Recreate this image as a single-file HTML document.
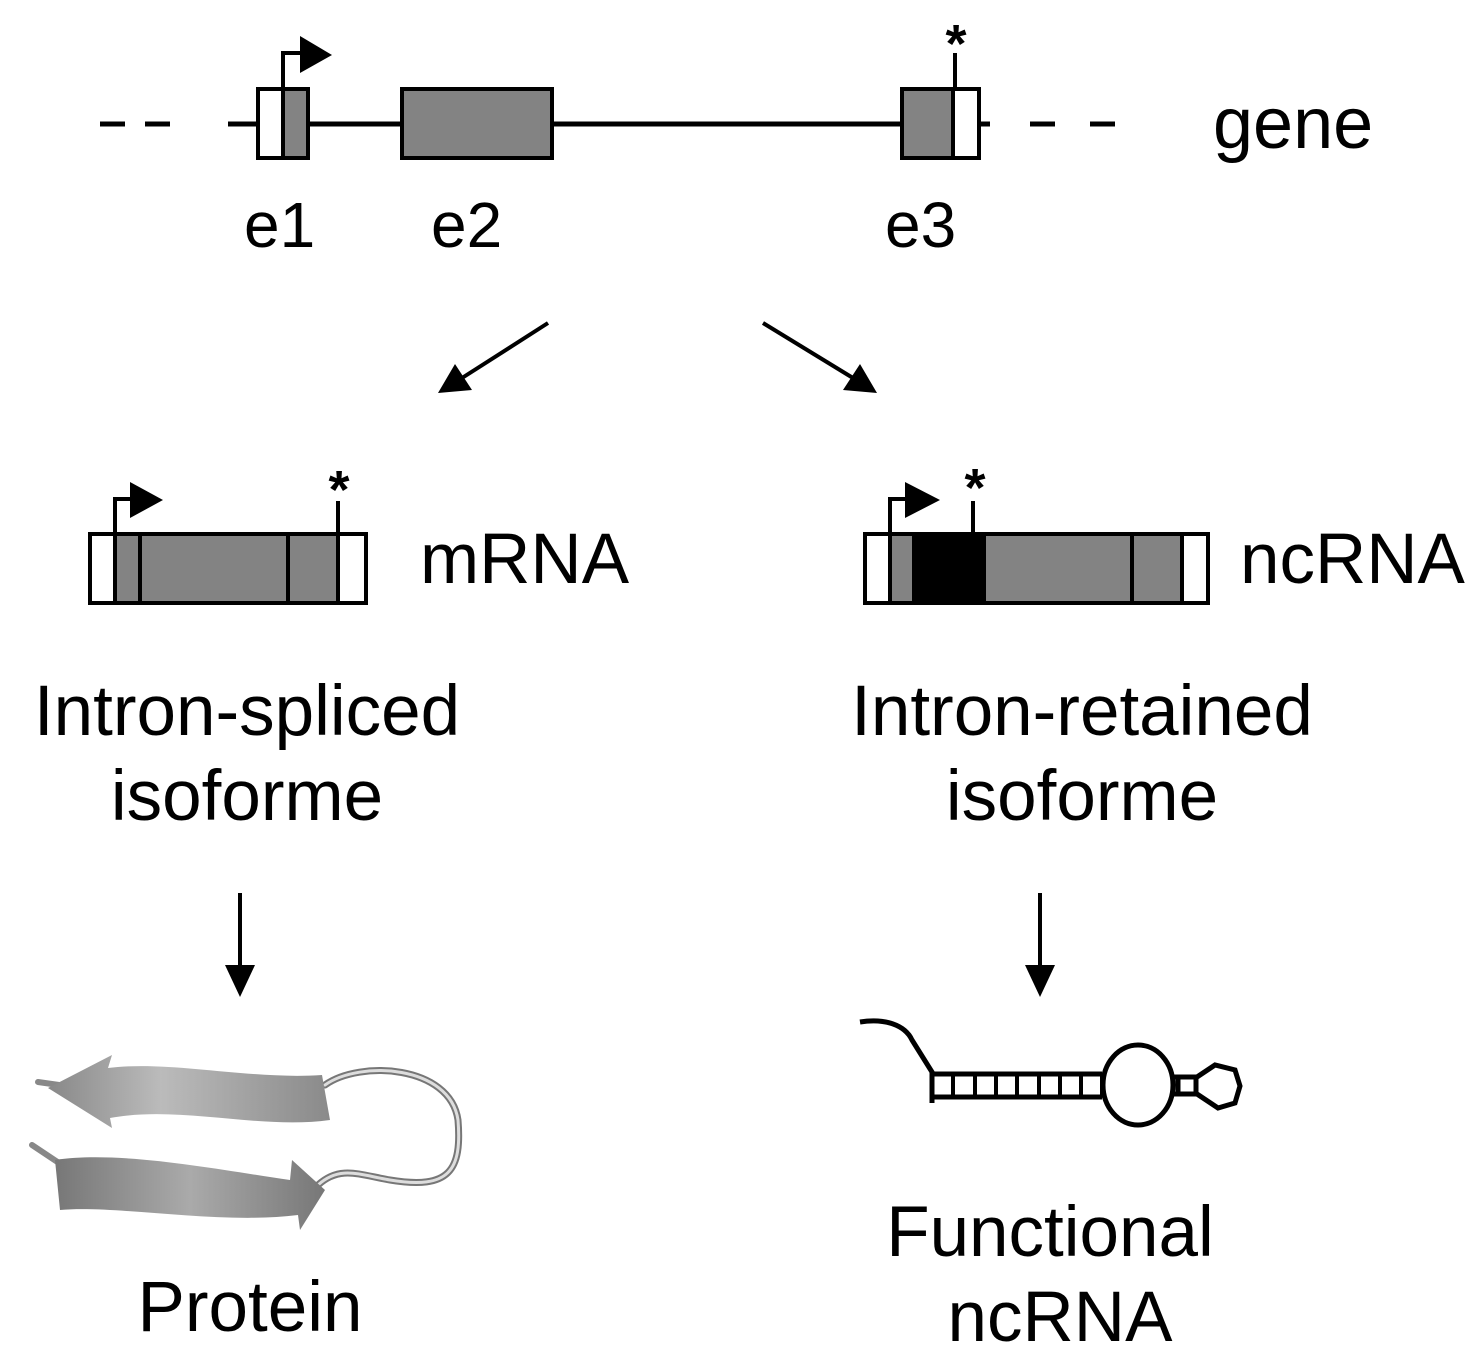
<!DOCTYPE html>
<html><head><meta charset="utf-8"><style>
html,body{margin:0;padding:0;background:#fff}
svg text{font-family:"Liberation Sans",Arial,sans-serif;fill:#000}
</style></head><body>
<svg width="1480" height="1367" viewBox="0 0 1480 1367" xmlns="http://www.w3.org/2000/svg">
<defs>
<linearGradient id="g1" x1="0" y1="0" x2="1" y2="0"><stop offset="0" stop-color="#888"/><stop offset="0.4" stop-color="#bbb"/><stop offset="1" stop-color="#8a8a8a"/></linearGradient>
<linearGradient id="g2" x1="0" y1="0" x2="1" y2="0"><stop offset="0" stop-color="#777"/><stop offset="0.5" stop-color="#aaa"/><stop offset="1" stop-color="#777"/></linearGradient>
</defs>
<g stroke="#000" stroke-width="5">
<line x1="100" y1="124" x2="125" y2="124"/><line x1="145" y1="124" x2="170" y2="124"/>
<line x1="228" y1="124" x2="990" y2="124"/>
<line x1="1030" y1="124" x2="1055" y2="124"/><line x1="1090" y1="124" x2="1115" y2="124"/>
</g>
<g stroke="#000" stroke-width="4">
<rect x="258" y="89" width="25" height="69" fill="#fff"/>
<rect x="283" y="89" width="25" height="69" fill="#838383"/>
<rect x="402" y="89" width="150" height="69" fill="#838383"/>
<rect x="902" y="89" width="51" height="69" fill="#838383"/>
<rect x="953" y="89" width="26" height="69" fill="#fff"/>
<polyline points="283,89 283,53 302,53" fill="none"/>
<line x1="955" y1="89" x2="955" y2="53"/>
</g>
<polygon points="300,36 332,55 300,73" fill="#000"/>
<text x="956" y="62" font-size="54" font-weight="bold" text-anchor="middle">*</text>
<text x="1213" y="148" font-size="72">gene</text>
<text x="244" y="247" font-size="64">e1</text>
<text x="431" y="247" font-size="64">e2</text>
<text x="885" y="247" font-size="64">e3</text>
<g stroke="#000" stroke-width="4">
<line x1="548" y1="323" x2="462" y2="378"/>
<line x1="763" y1="323" x2="853" y2="378"/>
<line x1="240" y1="893" x2="240" y2="970"/>
<line x1="1040" y1="893" x2="1040" y2="970"/>
</g>
<polygon points="438,393 455,364 472,390" fill="#000"/>
<polygon points="877,393 843,390 860,364" fill="#000"/>
<polygon points="225,965 255,965 240,997" fill="#000"/>
<polygon points="1025,965 1055,965 1040,997" fill="#000"/>
<g stroke="#000" stroke-width="4">
<rect x="90" y="534" width="276" height="69" fill="#838383"/>
<rect x="90" y="534" width="25" height="69" fill="#fff"/>
<rect x="338" y="534" width="28" height="69" fill="#fff"/>
<line x1="140" y1="534" x2="140" y2="603"/>
<line x1="288" y1="534" x2="288" y2="603"/>
<polyline points="115,534 115,499 132,499" fill="none"/>
<line x1="338" y1="534" x2="338" y2="501"/>
</g>
<polygon points="130,482 163,500 130,518" fill="#000"/>
<text x="339" y="508" font-size="54" font-weight="bold" text-anchor="middle">*</text>
<text x="420" y="583" font-size="71">mRNA</text>
<g stroke="#000" stroke-width="4">
<rect x="865" y="534" width="343" height="69" fill="#838383"/>
<rect x="865" y="534" width="25" height="69" fill="#fff"/>
<rect x="1182" y="534" width="26" height="69" fill="#fff"/>
<rect x="914" y="534" width="70" height="69" fill="#000"/>
<line x1="1132" y1="534" x2="1132" y2="603"/>
<polyline points="890,534 890,499 907,499" fill="none"/>
<line x1="973" y1="534" x2="973" y2="501"/>
</g>
<polygon points="905,482 940,500 905,518" fill="#000"/>
<text x="975" y="506" font-size="54" font-weight="bold" text-anchor="middle">*</text>
<text x="1240" y="583" font-size="71">ncRNA</text>
<g font-size="71" text-anchor="middle">
<text x="247" y="735">Intron-spliced</text>
<text x="247" y="820">isoforme</text>
<text x="1082" y="735">Intron-retained</text>
<text x="1082" y="820">isoforme</text>
<text x="250" y="1331">Protein</text>
<text x="1050" y="1256">Functional</text>
<text x="1060" y="1341">ncRNA</text>
</g>
<g fill="none" stroke-linecap="round">
<path d="M325,1085 C360,1060 450,1065 458,1120 C462,1170 450,1190 390,1180 C360,1175 340,1165 318,1185" stroke="#777" stroke-width="7"/>
<path d="M325,1085 C360,1060 450,1065 458,1120 C462,1170 450,1190 390,1180 C360,1175 340,1165 318,1185" stroke="#ddd" stroke-width="3"/>
<line x1="38" y1="1082" x2="80" y2="1088" stroke="#888" stroke-width="6"/>
<line x1="32" y1="1145" x2="62" y2="1165" stroke="#888" stroke-width="6"/>
</g>
<path d="M48,1088 L112,1055 L108,1068 C170,1060 250,1080 322,1075 L330,1120 C260,1130 180,1105 110,1118 L112,1128 Z" fill="url(#g1)"/>
<path d="M55,1160 C120,1150 220,1170 290,1180 L292,1160 L325,1190 L300,1230 L298,1215 C220,1225 120,1205 60,1210 Z" fill="url(#g2)"/>
<g fill="none" stroke="#000" stroke-width="5">
<path d="M860,1022 C885,1018 905,1025 912,1040 L932,1072 L932,1103"/>
<line x1="932" y1="1074" x2="1102" y2="1074"/>
<line x1="932" y1="1097" x2="1102" y2="1097"/>
<ellipse cx="1138" cy="1085" rx="35" ry="40"/>
<line x1="1172" y1="1077" x2="1197" y2="1077"/>
<line x1="1172" y1="1094" x2="1197" y2="1094"/>
<line x1="1178" y1="1077" x2="1178" y2="1094"/>
<line x1="1196" y1="1077" x2="1196" y2="1094"/>
<path d="M1197,1077 L1215,1065 L1235,1070 L1240,1086 L1235,1103 L1218,1108 L1197,1094"/>
</g>
<g stroke="#000" stroke-width="4">
<line x1="953" y1="1074" x2="953" y2="1097"/><line x1="975" y1="1074" x2="975" y2="1097"/>
<line x1="996" y1="1074" x2="996" y2="1097"/><line x1="1017" y1="1074" x2="1017" y2="1097"/>
<line x1="1039" y1="1074" x2="1039" y2="1097"/><line x1="1060" y1="1074" x2="1060" y2="1097"/>
<line x1="1081" y1="1074" x2="1081" y2="1097"/><line x1="1102" y1="1074" x2="1102" y2="1097"/>
</g>
</svg>
</body></html>
